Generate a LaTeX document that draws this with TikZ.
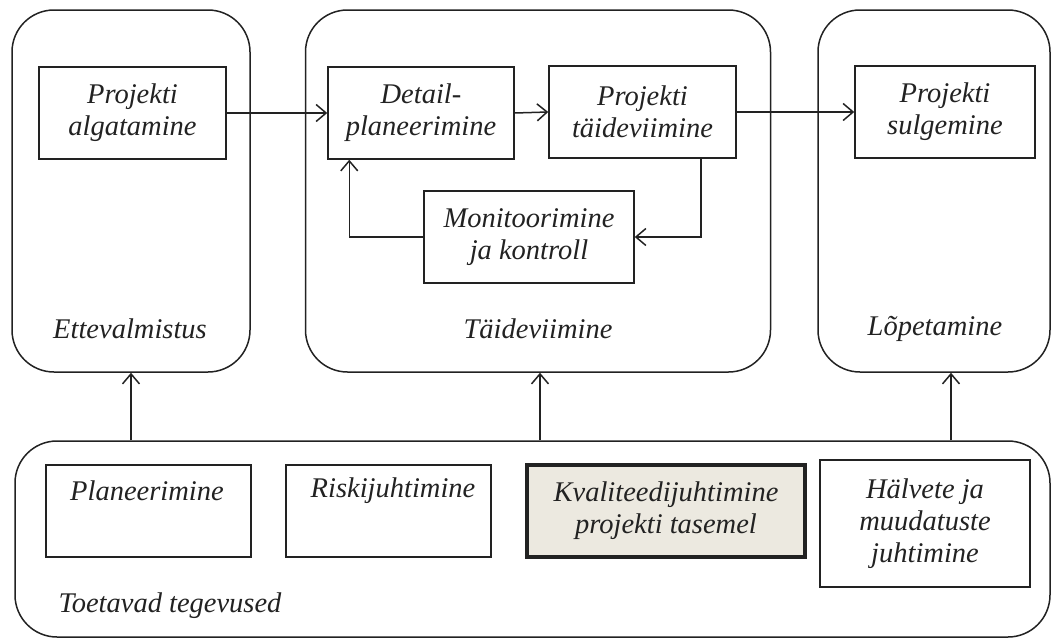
\documentclass[tikz,border=0pt]{standalone}
\usepackage{fontspec}
\setmainfont{Liberation Serif}
\usetikzlibrary{arrows.meta}
\definecolor{ink}{HTML}{222222}
\definecolor{paper}{HTML}{ECE9E0}
\begin{document}
\begin{tikzpicture}[x=1pt,y=-1pt,
  every node/.style={font=\fontsize{28.5}{32}\selectfont\itshape, text=ink},
  phase/.style={draw=ink, line width=1.5pt, rounded corners=42pt, inner sep=0pt},
  task/.style={draw=ink, line width=1.5pt, inner sep=0pt, align=center},
  keytask/.style={task, line width=4pt, fill=paper},
  flow/.style={draw=ink, line width=1.5pt, -{Straight Barb[length=10pt,width=17pt,line width=1.5pt]}},
  caption/.style={inner sep=0pt}
]
\useasboundingbox (0,0) rectangle (1053,640);

% phases
\node[phase, minimum width=238pt, minimum height=362pt] (ette) at (131,191) {};
\node[phase, minimum width=465pt, minimum height=362pt] (taid) at (538,191) {};
\node[phase, minimum width=232pt, minimum height=362pt] (lop)  at (934,191) {};
\node[phase, minimum width=1035pt, minimum height=196pt] (tt)  at (532.5,539) {};

\node[caption] (cette) at (130,329) {Ettevalmistus};
\node[caption] (ctaid) at (538,329) {Täideviimine};
\node[caption] (clop)  at (935,329) {Lõpetamine};
\node[caption] (ctt)   at (170,606) {Toetavad tegevused};

% process steps
\node[task, minimum width=187pt, minimum height=92pt] (alg) at (132.5,113) {Projekti\\algatamine};
\node[task, minimum width=186pt, minimum height=92pt] (det) at (421,113) {Detail-\\planeerimine};
\node[task, minimum width=187pt, minimum height=92pt] (tdv) at (642.5,112) {Projekti\\täideviimine};
\node[task, minimum width=210pt, minimum height=92pt] (mon) at (529,237) {Monitoorimine\\ja kontroll};
\node[task, minimum width=180pt, minimum height=92pt] (sul) at (945,112) {Projekti\\sulgemine};

% supporting activities
\node[task, minimum width=205pt, minimum height=92pt] (pla) at (148.5,511) {};
\node[caption] (tpla) at (147,491) {Planeerimine};
\node[task, minimum width=205pt, minimum height=92pt] (ris) at (388.5,511) {};
\node[caption] (tris) at (393,491) {Riskijuhtimine};
\node[keytask, minimum width=278pt, minimum height=92pt] (kva) at (666,511) {Kvaliteedijuhtimine\\projekti tasemel};
\node[task, minimum width=210pt, minimum height=127pt] (hal) at (925,523.5) {Hälvete ja\\muudatuste\\juhtimine};

% main flow
\draw[flow] (alg.east) -- (det.west);
\draw[flow] (det.east) -- (tdv.west);
\draw[flow] (tdv.east) -- (sul.west);
\draw[flow] ([xshift=-36pt]tdv.south east) |- (mon.east);
\draw[flow] (mon.west) -| ([xshift=22pt]det.south west);

% support links
\coordinate (upette) at (ette.south);
\coordinate (uptaid) at ([xshift=2pt]taid.south);
\coordinate (uplop)  at ([xshift=17pt]lop.south);
\draw[flow] (tt.north -| upette) -- (upette);
\draw[flow] (tt.north -| uptaid) -- (uptaid);
\draw[flow] (tt.north -| uplop) -- (uplop);
\end{tikzpicture}
\end{document}
